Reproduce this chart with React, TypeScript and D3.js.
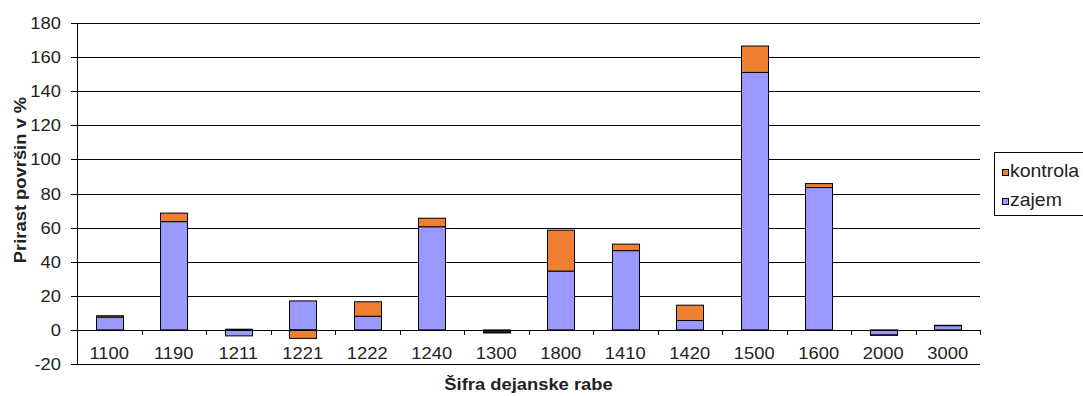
import React from "react";
import * as d3 from "d3";

// Land-use codes and the two growth components (percent)
const categories = ["1100", "1190", "1211", "1221", "1222", "1240", "1300", "1800", "1410", "1420", "1500", "1600", "2000", "3000"];
const zajem = [7.5, 63.5, -3.5, 17, 8, 60.5, -1.2, 34.5, 46.5, 5.5, 151, 83.5, -3, 2.5];
const kontrola = [0.8, 5, 0.4, -5, 8.5, 5, -0.6, 24, 3.8, 9, 15.5, 2.3, -0.2, 0.2];
const yTicks = [-20, 0, 20, 40, 60, 80, 100, 120, 140, 160, 180];

const seriesKeys = ["zajem", "kontrola"];
const colors: Record<string, string> = { zajem: "#9999FF", kontrola: "#EE7F33" };

const W = 1083;
const H = 396;
const left = 77;
const right = 980;
const top = 23;
const bottom = 364;
const FONT = "'Liberation Sans', Arial, sans-serif";
const SX = 1.08; // slight horizontal stretch of labels

export default function App() {
  const rows = categories.map((c, i) => ({ cat: c, zajem: zajem[i], kontrola: kontrola[i] }));
  const x = d3.scaleBand<string>().domain(categories).range([left, right]).padding(0);
  const y = d3.scaleLinear().domain([-20, 180]).range([bottom, top]);
  const stacked = d3.stack<any>().keys(seriesKeys).offset(d3.stackOffsetDiverging)(rows);
  const barW = x.bandwidth() * 0.42;

  const stretched = (tx: number, ty: number) => `translate(${tx},${ty}) scale(${SX},1)`;

  return (
    <svg width={W} height={H} style={{ position: "absolute", left: 0, top: 0, background: "#fff" }}>
      {/* horizontal gridlines */}
      {yTicks.map((t) => (
        <line key={"g" + t} x1={left} x2={right} y1={Math.round(y(t)) + 0.5} y2={Math.round(y(t)) + 0.5} stroke="#000" strokeWidth={1} />
      ))}
      {/* y axis */}
      <line x1={left + 0.5} x2={left + 0.5} y1={Math.round(y(180)) + 0.5} y2={Math.round(y(-20)) + 0.5} stroke="#000" />
      {yTicks.map((t) => (
        <g key={"yt" + t}>
          <line x1={left - 6} x2={left} y1={Math.round(y(t)) + 0.5} y2={Math.round(y(t)) + 0.5} stroke="#000" />
          <text transform={stretched(61, y(t) + 6)} textAnchor="end" fontFamily={FONT} fontSize={17} fill="#222">
            {t}
          </text>
        </g>
      ))}
      {/* bars */}
      {stacked.map((s) => (
        <g key={s.key} fill={colors[s.key]} stroke="#000" strokeWidth={1}>
          {s.map((d, i) => {
            const y0 = y(d[0]);
            const y1 = y(d[1]);
            const cx = (x(categories[i]) as number) + x.bandwidth() / 2;
            return (
              <rect
                key={i}
                x={Math.round(cx - barW / 2) + 0.5}
                y={Math.min(y0, y1)}
                width={Math.round(barW)}
                height={Math.abs(y0 - y1)}
              />
            );
          })}
        </g>
      ))}
      {/* category axis along zero */}
      <line x1={left} x2={right} y1={Math.round(y(0)) + 0.5} y2={Math.round(y(0)) + 0.5} stroke="#000" />
      {categories.map((c) => (
        <line
          key={"xt" + c}
          x1={Math.round((x(c) as number) + x.bandwidth()) + 0.5}
          x2={Math.round((x(c) as number) + x.bandwidth()) + 0.5}
          y1={y(0)}
          y2={y(0) + 5}
          stroke="#000"
        />
      ))}
      {categories.map((c) => (
        <text
          key={"xl" + c}
          transform={stretched((x(c) as number) + x.bandwidth() / 2, 359)}
          textAnchor="middle"
          fontFamily={FONT}
          fontSize={17}
          fill="#222"
        >
          {c}
        </text>
      ))}
      {/* axis titles */}
      <text
        transform={`translate(26,180) rotate(-90) scale(${SX},1)`}
        textAnchor="middle"
        fontFamily={FONT}
        fontSize={17}
        fontWeight="bold"
        fill="#222"
      >
        Prirast površin v %
      </text>
      <text transform={stretched((left + right) / 2, 390)} textAnchor="middle" fontFamily={FONT} fontSize={17} fontWeight="bold" fill="#222">
        Šifra dejanske rabe
      </text>
      {/* legend */}
      <rect x={994.5} y={152.5} width={100} height={63} fill="#fff" stroke="#000" />
      {["kontrola", "zajem"].map((k, i) => (
        <g key={k}>
          <rect x={1002.5} y={169.5 + i * 29} width={6} height={6} fill={colors[k]} stroke="#000" />
          <text transform={stretched(1010, 177 + i * 29)} fontFamily={FONT} fontSize={18} fill="#222">
            {k}
          </text>
        </g>
      ))}
    </svg>
  );
}
